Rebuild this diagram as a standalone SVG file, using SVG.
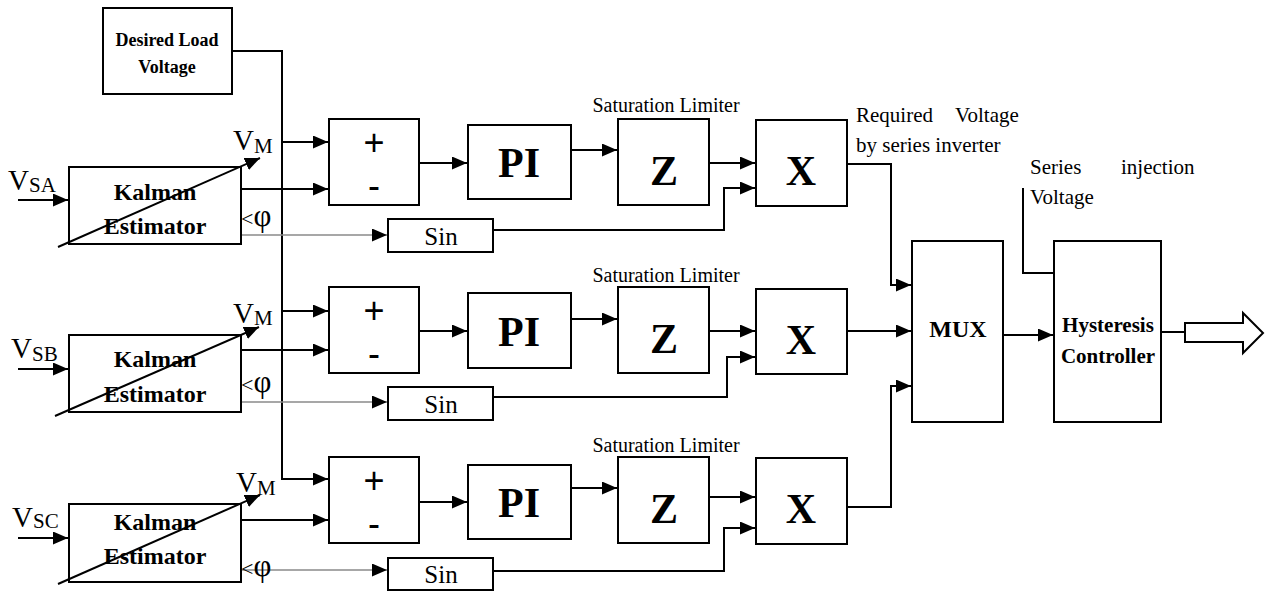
<svg xmlns="http://www.w3.org/2000/svg" width="1270" height="592" viewBox="0 0 1270 592">
<style>
.b{fill:#fff;stroke:#000;stroke-width:2}
.w{fill:none;stroke:#000;stroke-width:2}
.g{fill:none;stroke:#8a8a8a;stroke-width:1.6}
.t{font-family:"Liberation Serif",serif;fill:#000}
.bd{font-family:"Liberation Serif",serif;font-weight:bold;fill:#000}
.s{font-family:"Liberation Sans",sans-serif;fill:#000}
</style>
<defs>
<marker id="a" markerUnits="userSpaceOnUse" markerWidth="16" markerHeight="14" refX="15" refY="6.5" orient="auto"><path d="M0,0 L15,6.5 L0,13 z" fill="#000"/></marker>
</defs>
<rect width="1270" height="592" fill="#fff"/>

<g id="connectors">
<polyline class="w" points="232,51 282,51 282,479 328,479" marker-end="url(#a)"/>
<line class="w" x1="282" y1="142" x2="328" y2="142" marker-end="url(#a)"/>
<line class="w" x1="282" y1="311" x2="328" y2="311" marker-end="url(#a)"/>
<!-- row 1 -->
<line class="w" x1="18" y1="200" x2="68" y2="200" marker-end="url(#a)"/>
<line class="w" x1="58" y1="247" x2="260" y2="158" marker-end="url(#a)"/>
<line class="w" x1="241" y1="189" x2="328" y2="189" marker-end="url(#a)"/>
<line class="g" x1="241" y1="235" x2="387" y2="235" marker-end="url(#a)"/>
<line class="w" x1="420" y1="163" x2="467" y2="163" marker-end="url(#a)"/>
<line class="w" x1="571" y1="150" x2="617" y2="150" marker-end="url(#a)"/>
<line class="w" x1="709" y1="163" x2="755" y2="163" marker-end="url(#a)"/>
<polyline class="w" points="493,230 724,230 724,188 755,188" marker-end="url(#a)"/>
<polyline class="w" points="847,164 891,164 891,285 911,285" marker-end="url(#a)"/>
<!-- row 2 -->
<line class="w" x1="18" y1="369" x2="68" y2="369" marker-end="url(#a)"/>
<line class="w" x1="55" y1="416" x2="259" y2="327" marker-end="url(#a)"/>
<line class="w" x1="241" y1="350" x2="328" y2="350" marker-end="url(#a)"/>
<line class="g" x1="241" y1="402" x2="387" y2="402" marker-end="url(#a)"/>
<line class="w" x1="420" y1="331" x2="467" y2="331" marker-end="url(#a)"/>
<line class="w" x1="571" y1="319" x2="617" y2="319" marker-end="url(#a)"/>
<line class="w" x1="709" y1="331" x2="755" y2="331" marker-end="url(#a)"/>
<polyline class="w" points="493,397 727,397 727,357 755,357" marker-end="url(#a)"/>
<line class="w" x1="847" y1="331" x2="911" y2="331" marker-end="url(#a)"/>
<!-- row 3 -->
<line class="w" x1="18" y1="538" x2="68" y2="538" marker-end="url(#a)"/>
<line class="w" x1="58" y1="584" x2="260" y2="495" marker-end="url(#a)"/>
<line class="w" x1="241" y1="520" x2="328" y2="520" marker-end="url(#a)"/>
<line class="g" x1="241" y1="570" x2="387" y2="570" marker-end="url(#a)"/>
<line class="w" x1="420" y1="502" x2="467" y2="502" marker-end="url(#a)"/>
<line class="w" x1="571" y1="488" x2="617" y2="488" marker-end="url(#a)"/>
<line class="w" x1="709" y1="497" x2="755" y2="497" marker-end="url(#a)"/>
<polyline class="w" points="493,571 724,571 724,528 755,528" marker-end="url(#a)"/>
<polyline class="w" points="847,507 891,507 891,386 911,386" marker-end="url(#a)"/>
<!-- right side -->
<line class="w" x1="1003" y1="335" x2="1053" y2="335" marker-end="url(#a)"/>
<polyline class="w" points="1023,188 1023,273 1054,273"/>
<line class="w" x1="1161" y1="332" x2="1185" y2="332"/>
<polygon class="b" points="1185,323 1243,323 1243,313 1263,333 1243,353 1243,342 1185,342"/>
</g>

<g id="desired">
<rect class="b" x="103" y="8" width="129" height="86"/>
<text class="bd" x="167" y="46" font-size="18" text-anchor="middle">Desired Load</text>
<text class="bd" x="167" y="73" font-size="18" text-anchor="middle">Voltage</text>
</g>

<g id="kalman1">
<rect class="b" x="69" y="167" width="172" height="77" fill-opacity="0"/>
<text class="bd" x="155" y="200" font-size="24" text-anchor="middle">Kalman</text>
<text class="bd" x="155" y="234" font-size="24" text-anchor="middle">Estimator</text>
</g>
<g id="kalman2">
<rect class="b" x="69" y="335" width="172" height="77" fill-opacity="0"/>
<text class="bd" x="155" y="367" font-size="24" text-anchor="middle">Kalman</text>
<text class="bd" x="155" y="402" font-size="24" text-anchor="middle">Estimator</text>
</g>
<g id="kalman3">
<rect class="b" x="69" y="504" width="172" height="78" fill-opacity="0"/>
<text class="bd" x="155" y="530" font-size="24" text-anchor="middle">Kalman</text>
<text class="bd" x="155" y="564" font-size="24" text-anchor="middle">Estimator</text>
</g>

<g id="labels">
<text class="t" x="8" y="190" font-size="29">V<tspan font-size="21" dy="2">SA</tspan></text>
<text class="t" x="11" y="358" font-size="29">V<tspan font-size="21" dy="3">SB</tspan></text>
<text class="t" x="12" y="527" font-size="29">V<tspan font-size="21" dy="1">SC</tspan></text>
<text class="t" x="233" y="150" font-size="29">V<tspan font-size="21" dy="3">M</tspan></text>
<text class="t" x="233" y="323" font-size="29">V<tspan font-size="21" dy="2">M</tspan></text>
<text class="t" x="236" y="492" font-size="29">V<tspan font-size="21" dy="3">M</tspan></text>
<text class="t" x="241" y="226" font-size="22">&lt;<tspan font-size="31">φ</tspan></text>
<text class="t" x="241" y="392" font-size="22">&lt;<tspan font-size="31">φ</tspan></text>
<text class="t" x="241" y="576" font-size="22">&lt;<tspan font-size="31">φ</tspan></text>
<text class="t" x="666" y="112" font-size="20" text-anchor="middle">Saturation Limiter</text>
<text class="t" x="666" y="282" font-size="20" text-anchor="middle">Saturation Limiter</text>
<text class="t" x="666" y="452" font-size="20" text-anchor="middle">Saturation Limiter</text>
<text class="t" x="856" y="122" font-size="21">Required</text>
<text class="t" x="955" y="122" font-size="21">Voltage</text>
<text class="t" x="856" y="152" font-size="21">by series inverter</text>
<text class="t" x="1030" y="174" font-size="21">Series</text>
<text class="t" x="1121" y="174" font-size="21">injection</text>
<text class="t" x="1030" y="204" font-size="21">Voltage</text>
</g>

<g id="sum1"><rect class="b" x="329" y="119" width="90" height="86"/><text class="s" x="374" y="155" font-size="36" text-anchor="middle">+</text><text class="s" x="374" y="198" font-size="36" text-anchor="middle">-</text></g>
<g id="sum2"><rect class="b" x="329" y="287" width="90" height="86"/><text class="s" x="374" y="323" font-size="36" text-anchor="middle">+</text><text class="s" x="374" y="366" font-size="36" text-anchor="middle">-</text></g>
<g id="sum3"><rect class="b" x="329" y="457" width="90" height="86"/><text class="s" x="374" y="493" font-size="36" text-anchor="middle">+</text><text class="s" x="374" y="536" font-size="36" text-anchor="middle">-</text></g>

<g id="pi1"><rect class="b" x="468" y="125" width="103" height="74"/><text class="bd" x="519" y="177" font-size="42" text-anchor="middle">PI</text></g>
<g id="pi2"><rect class="b" x="468" y="293" width="103" height="75"/><text class="bd" x="519" y="346" font-size="42" text-anchor="middle">PI</text></g>
<g id="pi3"><rect class="b" x="468" y="465" width="103" height="74"/><text class="bd" x="519" y="517" font-size="42" text-anchor="middle">PI</text></g>

<g id="z1"><rect class="b" x="618" y="119" width="91" height="86"/><text class="bd" x="664" y="185" font-size="42" text-anchor="middle">Z</text></g>
<g id="z2"><rect class="b" x="618" y="287" width="91" height="86"/><text class="bd" x="664" y="353" font-size="42" text-anchor="middle">Z</text></g>
<g id="z3"><rect class="b" x="618" y="457" width="91" height="86"/><text class="bd" x="664" y="523" font-size="42" text-anchor="middle">Z</text></g>

<g id="x1"><rect class="b" x="756" y="120" width="91" height="86"/><text class="bd" x="801" y="185" font-size="42" text-anchor="middle">X</text></g>
<g id="x2"><rect class="b" x="756" y="289" width="91" height="85"/><text class="bd" x="801" y="354" font-size="42" text-anchor="middle">X</text></g>
<g id="x3"><rect class="b" x="756" y="458" width="91" height="86"/><text class="bd" x="801" y="523" font-size="42" text-anchor="middle">X</text></g>

<g id="sin1"><rect class="b" x="388" y="219" width="105" height="33"/><text class="t" x="441" y="245" font-size="25" text-anchor="middle">Sin</text></g>
<g id="sin2"><rect class="b" x="388" y="387" width="105" height="33"/><text class="t" x="441" y="413" font-size="25" text-anchor="middle">Sin</text></g>
<g id="sin3"><rect class="b" x="388" y="558" width="105" height="32"/><text class="t" x="441" y="583" font-size="25" text-anchor="middle">Sin</text></g>

<g id="mux"><rect class="b" x="912" y="241" width="91" height="181"/><text class="bd" x="958" y="337" font-size="24" text-anchor="middle">MUX</text></g>
<g id="hysteresis"><rect class="b" x="1054" y="241" width="107" height="181"/><text class="bd" x="1108" y="332" font-size="21" text-anchor="middle">Hysteresis</text><text class="bd" x="1108" y="363" font-size="21" text-anchor="middle">Controller</text></g>
</svg>
